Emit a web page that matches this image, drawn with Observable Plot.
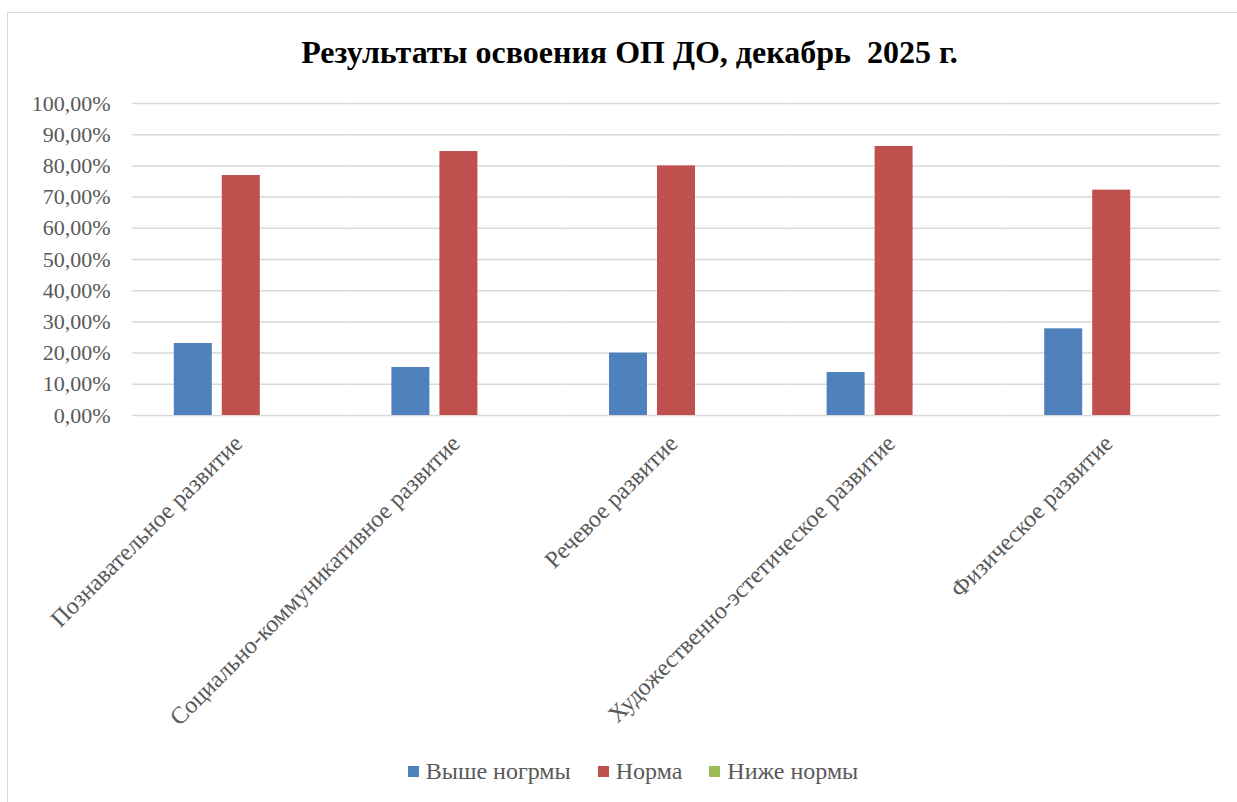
<!DOCTYPE html>
<html>
<head>
<meta charset="utf-8">
<script src="https://cdn.jsdelivr.net/npm/d3@7"></script>
<script src="https://cdn.jsdelivr.net/npm/@observablehq/plot@0.6"></script>
<style>
  html, body { margin: 0; padding: 0; background: #fff; width: 1237px; height: 802px; overflow: hidden; }
  #frame { position: absolute; left: 7px; top: 12px; width: 1300px; height: 900px; border: 1px solid #d9d9d9; box-sizing: border-box; }
  #title { position: absolute; left: 0; width: 1259px; top: 36px; text-align: center; font: bold 32px/1 "Liberation Serif", "Times New Roman", serif; color: #000; white-space: pre; }
  #chart { position: absolute; left: 0; top: 90px; }
  #legend { position: absolute; left: 0; width: 1266px; top: 759px; display: flex; justify-content: center; gap: 27px; font: 24px/1 "Liberation Serif", "Times New Roman", serif; color: #595959; }
  #legend .item { display: flex; align-items: center; gap: 7px; }
  #legend .sw { width: 11px; height: 11px; display: inline-block; }
</style>
</head>
<body>
<div id="frame"></div>
<div id="title"></div>
<div id="chart"></div>
<div id="legend"></div>
<script>
const titleText = "Результаты освоения ОП ДО, декабрь  2025 г.";
const categories = [
  "Познавательное развитие",
  "Социально-коммуникативное развитие",
  "Речевое развитие",
  "Художественно-эстетическое развитие",
  "Физическое развитие"
];
const series = ["Выше ногрмы", "Норма", "Ниже нормы"];
const colors = ["#4f81bd", "#c0504d", "#9bbb59"];
const aboveNorm = [0.2308, 0.1538, 0.2000, 0.1379, 0.2778];
const norm      = [0.7692, 0.8462, 0.8000, 0.8621, 0.7222];
const belowNorm = [0, 0, 0, 0, 0];
const yTicks = [0, 0.1, 0.2, 0.3, 0.4, 0.5, 0.6, 0.7, 0.8, 0.9, 1.0];

const valuesBySeries = [aboveNorm, norm, belowNorm];
const rows = [];
categories.forEach((c, i) => {
  series.forEach((s, j) => rows.push({category: c, series: s, value: valuesBySeries[j][i]}));
});

const fmt = d => (d * 100).toFixed(2).replace(".", ",") + "%";

document.getElementById("title").textContent = titleText;

const chart = Plot.plot({
  width: 1237,
  height: 700,
  marginTop: 13,
  marginLeft: 132,
  marginRight: 17,
  marginBottom: 375,
  style: {fontFamily: "'Liberation Serif', 'Times New Roman', serif", fontSize: "22px", color: "#595959", background: "transparent", overflow: "visible"},
  fx: {domain: categories, padding: 0, round: false, axis: null},
  x: {domain: series, paddingInner: 0.2083, paddingOuter: 0.871, round: false, axis: null},
  y: {domain: [0, 1], ticks: yTicks, tickFormat: fmt, tickSize: 0, tickPadding: 22, label: null},
  color: {domain: series, range: colors},
  marks: [
    Plot.gridY(yTicks, {stroke: "#d9d9d9", strokeOpacity: 1, strokeWidth: 1.5}),
    Plot.barY(rows, {fx: "category", x: "series", y: "value", fill: "series"}),
    Plot.axisFx({anchor: "bottom", tickRotate: -45, tickSize: 0, tickPadding: 24, dx: -3, fontSize: 24, label: null})
  ]
});
document.getElementById("chart").appendChild(chart);

const legend = document.getElementById("legend");
series.forEach((s, i) => {
  const item = document.createElement("div");
  item.className = "item";
  const sw = document.createElement("span");
  sw.className = "sw";
  sw.style.background = colors[i];
  const t = document.createElement("span");
  t.textContent = s;
  item.appendChild(sw);
  item.appendChild(t);
  legend.appendChild(item);
});
</script>
</body>
</html>
